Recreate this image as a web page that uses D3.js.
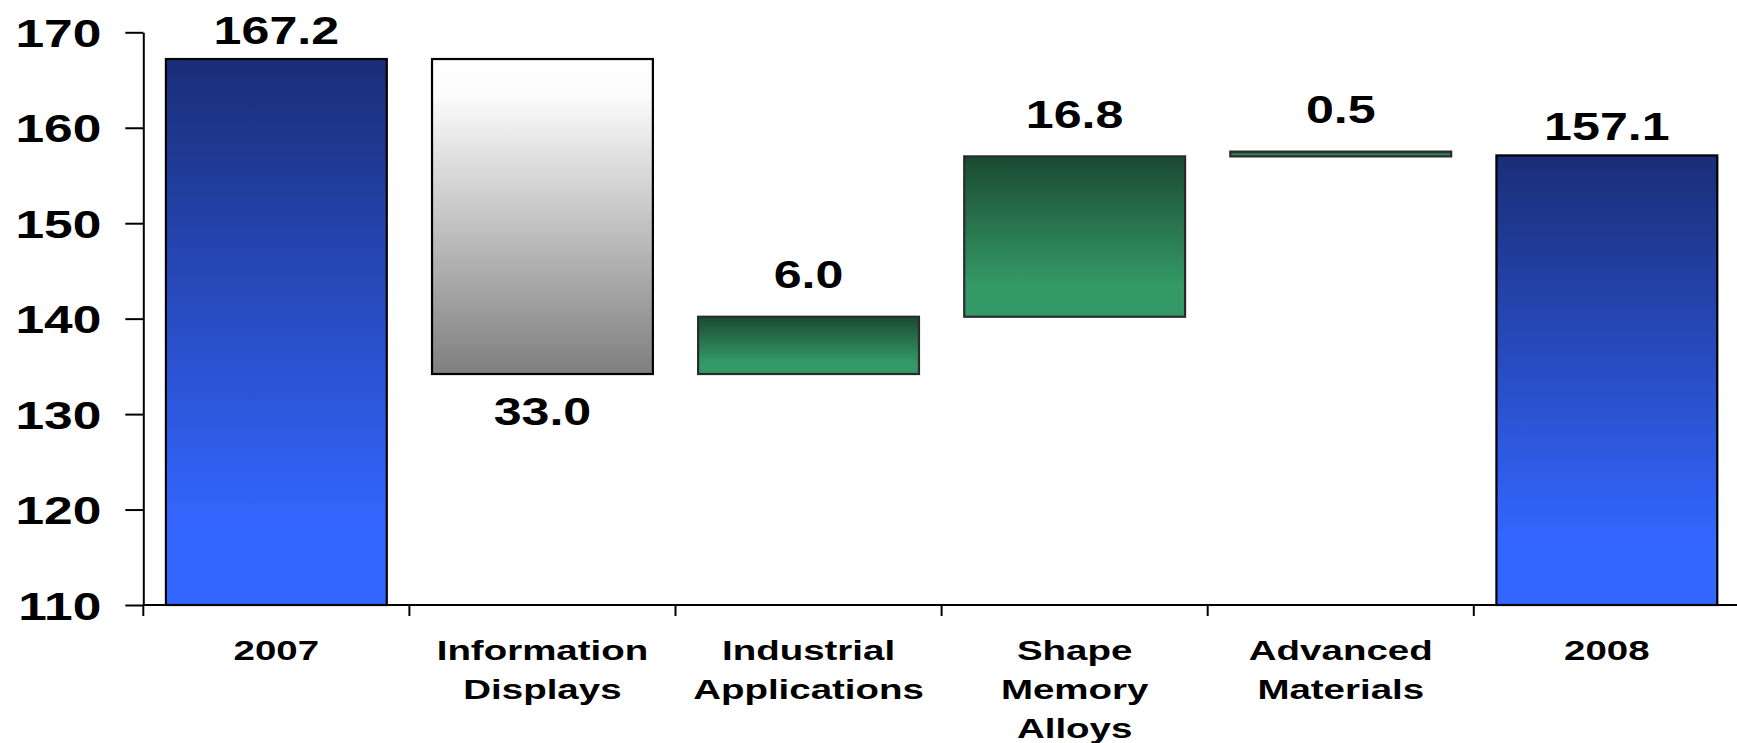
<!DOCTYPE html>
<html>
<head>
<meta charset="utf-8">
<script src="https://cdn.jsdelivr.net/npm/d3@7"></script>
<style>
  html, body { margin: 0; padding: 0; background: #fff; }
  svg { display: block; }
  text { font-family: "Liberation Sans", Arial, sans-serif; font-weight: bold; fill: #000; }
</style>
</head>
<body>
<div class="chart"></div>
<script>
'use strict';

// chart data
const categories = ["2007", "Information Displays", "Industrial Applications", "Shape Memory Alloys", "Advanced Materials", "2008"];
const values = [167.2, -33.0, 6.0, 16.8, 0.5, 157.1];
const kinds = ["total", "delta", "delta", "delta", "delta", "total"];
const yTicks = [110, 120, 130, 140, 150, 160, 170];

document.addEventListener('DOMContentLoaded', () => {

  const width = 1737;
  const height = 743;
  const left = 143.3;
  const right = 143.3 + 6 * 266.1;
  const bottom = 605;
  const top = 32.3;
  const sxBig = 1.32;   // the original text is stretched sideways
  const sxSmall = 1.35;

  const svg = d3.select(".chart")
    .append("svg")
    .attr("width", width)
    .attr("height", height);

  // gradients
  const defs = svg.append("defs");
  const grads = {
    total: [[0, "#1a2e78"], [0.85, "#3366ff"], [1, "#3366ff"]],
    neg: [[0, "#ffffff"], [0.12, "#fbfbfb"], [1, "#7f7f7f"]],
    pos: [[0, "#1b4a32"], [0.8, "#339966"], [1, "#339966"]]
  };
  Object.keys(grads).forEach(k => {
    const g = defs.append("linearGradient")
      .attr("id", "grad-" + k)
      .attr("x1", 0).attr("y1", 0).attr("x2", 0).attr("y2", 1);
    grads[k].forEach(s => g.append("stop").attr("offset", s[0]).attr("stop-color", s[1]));
  });

  // waterfall steps
  let running = 0;
  const bars = categories.map((c, i) => {
    let start, end, kind;
    if (kinds[i] === "total") {
      start = 110; end = values[i]; running = values[i]; kind = "total";
    } else {
      start = running; end = running + values[i]; running = end;
      kind = values[i] < 0 ? "neg" : "pos";
    }
    return {cat: c, value: values[i], start, end, kind};
  });

  // scales
  const x = d3.scaleBand()
    .domain(categories)
    .range([left, right])
    .paddingInner(0.17)
    .paddingOuter(0.085);
  const y = d3.scaleLinear().domain([110, 170]).range([bottom, top]);

  // y axis
  const yAxis = svg.append("g")
    .attr("transform", `translate(${left},0)`)
    .call(d3.axisLeft(y).tickValues(yTicks).tickSize(18).tickSizeOuter(0).tickFormat(d3.format("d")));
  yAxis.attr("font-family", null).attr("font-size", null);
  yAxis.select(".domain").attr("stroke", "#000").attr("stroke-width", 2);
  yAxis.selectAll(".tick line").attr("stroke", "#000").attr("stroke-width", 2);
  yAxis.selectAll(".tick text")
    .attr("x", -42 / sxBig)
    .attr("dy", "0.36em")
    .attr("transform", `scale(${sxBig},1)`)
    .style("font-size", "39px");

  // bars
  svg.append("g")
    .selectAll("rect")
    .data(bars)
    .enter()
    .append("rect")
    .attr("x", d => x(d.cat))
    .attr("y", d => y(Math.max(d.start, d.end)))
    .attr("width", x.bandwidth())
    .attr("height", d => Math.abs(y(d.start) - y(d.end)))
    .attr("fill", d => `url(#grad-${d.kind})`)
    .attr("stroke", d => d.kind === "pos" ? "#2b2b2b" : "#000")
    .attr("stroke-width", 2.2);

  // x axis
  const xAxis = svg.append("g")
    .attr("transform", `translate(0,${bottom})`)
    .call(d3.axisBottom(x).tickSize(0).tickSizeOuter(0));
  xAxis.attr("font-family", null).attr("font-size", null);
  xAxis.select(".domain").attr("d", `M${left},0H${width}`).attr("stroke", "#000").attr("stroke-width", 2);
  xAxis.selectAll(".tick text").each(function(d) {
    const t = d3.select(this)
      .text(null)
      .attr("y", 0)
      .attr("dy", null)
      .attr("transform", `translate(0,54.8) scale(${sxSmall},1)`)
      .style("font-size", "28.5px");
    d.split(" ").forEach((w, i) => {
      t.append("tspan").attr("x", 0).attr("dy", i === 0 ? 0 : 39).text(w);
    });
  });

  // category boundary ticks
  svg.append("g")
    .selectAll("line")
    .data(categories)
    .enter()
    .append("line")
    .attr("x1", (d, i) => x.range()[0] + i * x.step())
    .attr("x2", (d, i) => x.range()[0] + i * x.step())
    .attr("y1", bottom)
    .attr("y2", bottom + 11)
    .attr("stroke", "#000")
    .attr("stroke-width", 2);

  // value labels
  const fmt = d3.format(".1f");
  svg.append("g")
    .selectAll("text")
    .data(bars)
    .enter()
    .append("text")
    .attr("text-anchor", "middle")
    .style("font-size", "38px")
    .attr("transform", d => {
      const cx = x(d.cat) + x.bandwidth() / 2;
      let by;
      if (d.kind === "total") by = y(d.end) - 15;
      else if (d.kind === "pos") by = y(d.end) - 28.5;
      else by = y(d.end) + 51;
      return `translate(${cx},${by}) scale(${sxBig},1)`;
    })
    .text(d => fmt(Math.abs(d.value)));

});
</script>
</body>
</html>
